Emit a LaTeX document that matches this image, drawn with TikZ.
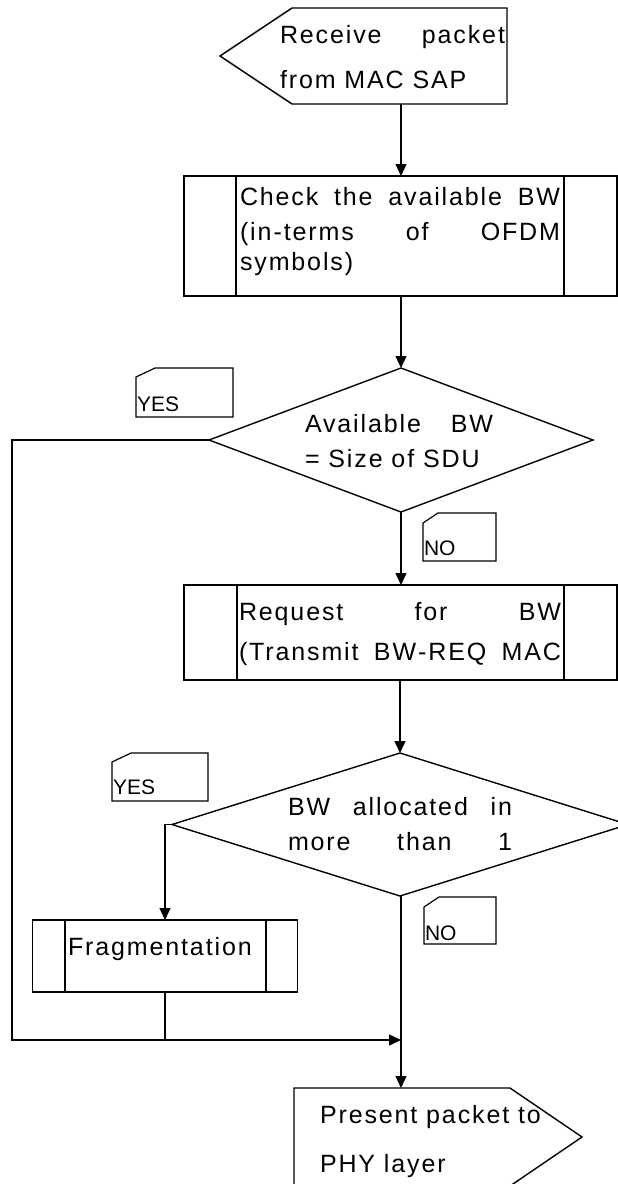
\documentclass[tikz,border=0pt]{standalone}
\usepackage{fontspec}
\setmainfont{Liberation Sans}
\newfontfamily\trk{Liberation Sans}[LetterSpace=7.5]
\usetikzlibrary{arrows.meta,shapes.geometric}
\begin{document}
\begin{tikzpicture}[x=1pt,y=-1pt,
  shapeline/.style={line width=1.4pt, line join=miter},
  flow/.style={line width=1.4pt},
  arr/.style={flow, -{Triangle[length=12pt,width=11pt]}},
  procbox/.style={draw, shapeline, rectangle, inner sep=0pt, outer sep=0pt},
  decide/.style={draw, shapeline, diamond, inner sep=0pt, outer sep=0pt},
  txt/.style={anchor=base west, inner sep=0pt, outer sep=0pt, font=\trk\fontsize{25}{25}\selectfont},
  tagtxt/.style={anchor=base west, inner sep=0pt, outer sep=0pt, font=\fontsize{21}{21}\selectfont},
  tagline/.style={draw, line width=1.2pt, line join=miter}
]
\path[use as bounding box] (0,0) rectangle (618,1184);
\clip (0,0) rectangle (618,1184);

% Receive packet (input shape)
\draw[shapeline] (220,56) -- (292,8) -- (507,8) -- (507,104) -- (292,104) -- cycle;
\coordinate (recvS) at (401,104);
\node[txt] (t1a) at (280,43) {\makebox[225pt][s]{Receive packet}};
\node[txt] (t1b) at (280,88) {from MAC SAP};

% Check the available BW
\node[procbox, minimum width=433pt, minimum height=120pt] (chk) at (400.5,236) {};
\draw[shapeline] (236,176) -- (236,296) (564,176) -- (564,296);
\node[txt] (t2a) at (240,205) {\makebox[320pt][s]{Check the available BW}};
\node[txt] (t2b) at (240,240) {\makebox[320pt][s]{(in\kern2pt-\kern2pt terms of OFDM}};
\node[txt] (t2c) at (240,270) {symbols)};

% Decision 1
\node[decide, minimum width=384pt, minimum height=144pt] (d1) at (401,440) {};
\node[txt] (t3a) at (305,432) {\makebox[188pt][s]{Available BW}};
\node[txt] (t3b) at (305,467) {= Size of SDU};

% Request for BW
\node[procbox, minimum width=433pt, minimum height=95pt] (req) at (400.5,632.5) {};
\draw[shapeline] (237,585) -- (237,680) (564,585) -- (564,680);
\node[txt] (t4a) at (239,620) {\makebox[322pt][s]{Request for BW}};
\node[txt] (t4b) at (239,660) {\makebox[322pt][s]{(Transmit BW\kern2pt-\kern2pt REQ MAC}};

% Decision 2
\node[decide, minimum width=456pt, minimum height=143pt] (d2) at (400,824.5) {};
\node[txt] (t5a) at (288,815) {\makebox[224pt][s]{BW allocated in}};
\node[txt] (t5b) at (288,850) {\makebox[224pt][s]{more than 1}};

% Fragmentation
\node[procbox, minimum width=265pt, minimum height=72pt] (frag) at (165,956) {};
\draw[shapeline] (65,920) -- (65,992) (266,920) -- (266,992);
\node[txt] (t6) at (68,955) {Fragmentation};

% Present packet (output shape)
\draw[shapeline] (294,1088) -- (510,1088) -- (582,1137) -- (510,1186) -- (294,1186) -- cycle;
\coordinate (presN) at (401,1088);
\node[txt] (t7a) at (320,1123) {Present packet to};
\node[txt] (t7b) at (320,1172) {PHY layer};

% YES / NO tags
\draw[tagline] (136,377) -- (155,368) -- (233,368) -- (233,417) -- (136,417) -- cycle;
\node[tagtxt] (y1) at (137,411) {YES};
\draw[tagline] (423,523) -- (438,513) -- (496,513) -- (496,561) -- (423,561) -- cycle;
\node[tagtxt] (n1) at (424,555) {NO};
\draw[tagline] (112,762) -- (131,753) -- (208,753) -- (208,801) -- (112,801) -- cycle;
\node[tagtxt] (y2) at (113,794) {YES};
\draw[tagline] (424,907) -- (439,897) -- (496,897) -- (496,944) -- (424,944) -- cycle;
\node[tagtxt] (n2) at (425,940) {NO};

% connectors
\coordinate (merge) at (401,1040);
\coordinate (leftTop) at (12,440);
\coordinate (leftBot) at (12,1040);
\coordinate (fragJoin) at (165,1040);
\draw[arr] (recvS) -- (chk.north -| recvS);
\draw[arr] (chk.south -| d1.north) -- (d1.north);
\draw[arr] (d1.south) -- (req.north -| d1.south);
\draw[arr] (req.south -| d2.north) -- (d2.north);
\draw[arr] (d1.west) -- (leftTop) -- (leftBot) -- (merge);
\draw[arr] (d2.west) -- (d2.west -| frag.north) -- (frag.north);
\draw[flow] (frag.south) -- (fragJoin);
\draw[arr] (d2.south -| merge) -- (presN);
\end{tikzpicture}
\end{document}
